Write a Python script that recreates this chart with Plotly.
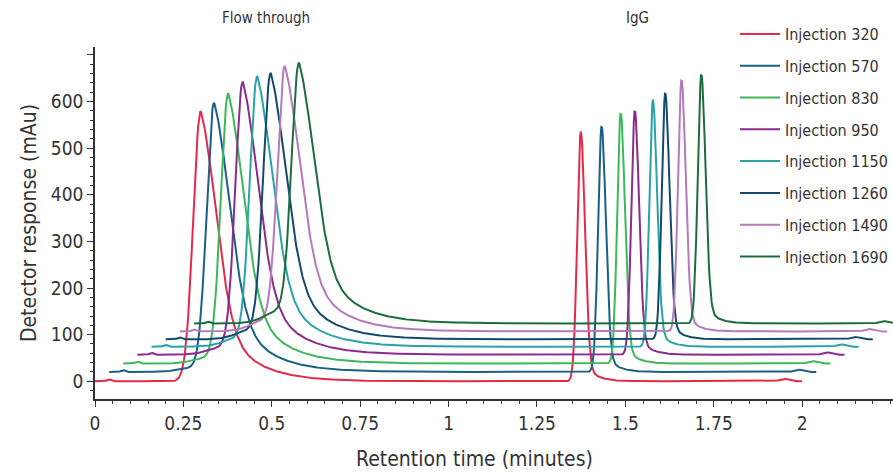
import numpy as np
import plotly.graph_objects as go

# ---------------- data ----------------
injections = [320, 570, 830, 950, 1150, 1260, 1490, 1690]
series_names = ["Injection %d" % v for v in injections]
x_shift = [0.00, 0.04, 0.08, 0.12, 0.16, 0.20, 0.24, 0.28]      # waterfall shift (min)
y_shift = [0, 20, 38, 57, 74, 90, 107, 124]                     # waterfall shift (mAu)
ft_rt = [0.299, 0.297, 0.297, 0.298, 0.299, 0.297, 0.297, 0.297]  # flow-through apex (min)
ft_height = [580, 578, 580, 586, 581, 572, 570, 560]             # flow-through apex (mAu)
ft_ramp = [0, 10, 14, 18, 20, 22, 26, 30]                         # pre-peak ramp (mAu)
igg_rt = [1.374, 1.393, 1.407, 1.407, 1.418, 1.413, 1.419, 1.435]  # IgG apex (min)
igg_height = [536, 528, 538, 524, 530, 529, 541, 535]            # IgG apex (mAu)
run_length = 2.0
x_ticks = [0, 0.25, 0.5, 0.75, 1, 1.25, 1.5, 1.75, 2]
x_tick_text = ["0", "0.25", "0.5", "0.75", "1", "1.25", "1.5", "1.75", "2"]
y_ticks = [0, 100, 200, 300, 400, 500, 600, 700]
y_tick_text = ["0", "100", "200", "300", "400", "500", "600", ""]

colors = ["#e4294d", "#1a5f88", "#3cb85a", "#8a2b8d", "#2aa2a7", "#134a6c", "#b47bb8", "#1e6c3d"]
FONT = "Liberation Sans Narrow, DejaVu Sans Condensed, Arial Narrow, sans-serif"

PLOT_TOP, PLOT_BOTTOM = 47, 399
PLOT_H = PLOT_BOTTOM - PLOT_TOP


def py(p):
    """pixel row -> paper y"""
    return (PLOT_BOTTOM - p) / PLOT_H


def px(p):
    """pixel column -> paper x"""
    return (p - 95) / 798


def gauss(d, s):
    return np.exp(-0.5 * (d / s) ** 2)


def logistic(z):
    return 1.0 / (1.0 + np.exp(-z))


def chromatogram(i, t):
    # flow-through peak: steep front, tailing back
    d = t - ft_rt[i]
    r = ft_ramp[i]
    core = ft_height[i] - r * logistic(5.0)
    right = 0.6 * gauss(d, 0.045) + 0.4 * np.exp(-np.clip(d, 0, None) / 0.09)
    ft = np.where(d < 0, core * gauss(d, 0.021), core * right)
    ramp = r * logistic((d + 0.1) / 0.02) * np.where(d < 0, 1.0, np.exp(-np.clip(d, 0, None) / 0.1))
    # IgG peak: narrow, slight tail
    e = t - igg_rt[i]
    igg_r = 0.9 * gauss(e, 0.012) + 0.1 * np.exp(-np.clip(e, 0, None) / 0.03)
    igg = igg_height[i] * np.where(e < 0, gauss(e, 0.0100), igg_r)
    # small injection / end-of-run artefacts
    art = 4 * gauss(t - 0.04, 0.006) + 5 * gauss(t - 1.95, 0.012)
    return ft + ramp + igg + art


t = np.arange(0, run_length + 1e-9, 0.002)

fig = go.Figure()
for i, name in enumerate(series_names):
    fig.add_trace(go.Scatter(
        x=t + x_shift[i],
        y=chromatogram(i, t) + y_shift[i],
        mode="lines",
        name=name,
        legendgroup=name,
        line=dict(color=colors[i], width=2),
    ))

fig.update_layout(
    width=893, height=473,
    margin=dict(l=95, r=0, t=PLOT_TOP, b=473 - PLOT_BOTTOM),
    paper_bgcolor="white", plot_bgcolor="white",
    font=dict(family=FONT, color="#333333"),
    showlegend=True,
    legend=dict(
        x=px(735), y=py(17), xanchor="left", yanchor="top",
        font=dict(size=16, family=FONT, color="#333333"),
        bgcolor="rgba(0,0,0,0)", tracegroupgap=8, maxheight=440, itemwidth=40,
    ),
    xaxis=dict(
        range=[0, 2.257], showgrid=False, zeroline=False,
        showline=True, linecolor="#333333", linewidth=1.5,
        tickmode="array", tickvals=x_ticks, ticktext=x_tick_text,
        ticks="outside", ticklen=6, tickcolor="#333333",
        minor=dict(dtick=0.05, ticks="outside", ticklen=3, tickcolor="#333333"),
        tickfont=dict(size=19, family=FONT, color="#333333"),
    ),
    yaxis=dict(
        range=[-38, 717], showgrid=False, zeroline=False,
        showline=True, linecolor="#333333", linewidth=1.5,
        tickmode="array", tickvals=y_ticks, ticktext=y_tick_text,
        ticks="outside", ticklen=6, tickcolor="#333333",
        minor=dict(dtick=20, ticks="outside", ticklen=3, tickcolor="#333333"),
        tickfont=dict(size=19, family=FONT, color="#333333"),
        title=dict(text="Detector response (mAu)", font=dict(size=21, family=FONT, color="#333333"), standoff=8),
    ),
    annotations=[
        dict(text="Flow through", x=px(266), y=py(18), xref="paper", yref="paper",
             xanchor="center", yanchor="middle",
             showarrow=False, font=dict(size=15, family=FONT, color="#333333")),
        dict(text="IgG", x=px(637), y=py(18), xref="paper", yref="paper",
             xanchor="center", yanchor="middle",
             showarrow=False, font=dict(size=15, family=FONT, color="#333333")),
        dict(text="Retention time (minutes)", x=px(474), y=py(459), xref="paper", yref="paper",
             xanchor="center", yanchor="middle",
             showarrow=False, font=dict(size=21, family=FONT, color="#333333")),
    ],
)

fig.write_html("out.html")
